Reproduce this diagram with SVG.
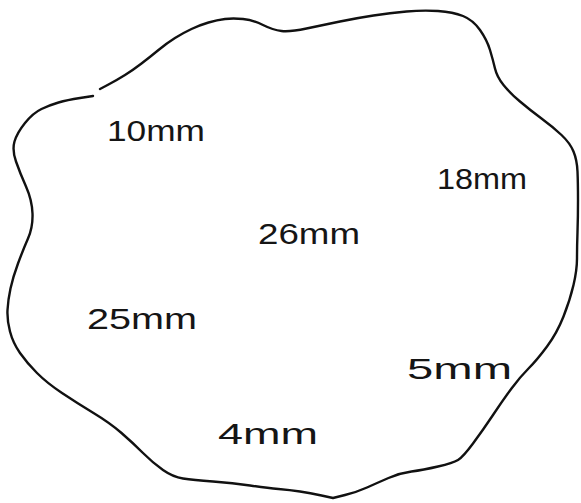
<svg xmlns="http://www.w3.org/2000/svg" width="581" height="503" viewBox="0 0 581 503">
<style>
.outline{fill:none;stroke:#111;stroke-width:2.4;stroke-linecap:round;stroke-linejoin:round}
.lbl{font-family:"Liberation Sans",Arial,sans-serif;font-size:29px;fill:#151515}
</style>
<rect width="581" height="503" fill="#ffffff"/>
<g id="shape">
<path class="outline" d="M100,89 L108.5,84.5 Q117,80 125,75 Q133,70 141.5,63.5 Q150,57 158.5,50 Q167,43 175,38 Q183,33 191.5,29 Q200,25 208.5,22.5 Q217,20 225,19 Q233,18 243,19 Q253,20 263,25 Q273,30 281.5,31 Q290,32 306.5,28.5 Q323,25 340,21.5 Q357,18 373.5,15.5 Q390,13 406.5,11.5 Q423,10 438,11 Q453,12 463,16 Q473,20 480,30 Q487,40 490,50 Q493,60 495,68.5 Q497,77 503.5,85 Q510,93 520,101.5 Q530,110 541.5,118.5 Q553,127 561.5,135 Q570,143 573.5,151.5 Q577,160 577.5,171.5 Q578,183 578,200 Q578,217 577.5,232 Q577,247 577,258.5 Q577,270 573.5,285 Q570,300 563.5,316.5 Q557,333 547,346.5 Q537,360 528.5,368.5 Q520,377 511.5,388.5 Q503,400 493,415 Q483,430 473,443.5 Q463,457 458,460 Q453,463 438,466.5 Q423,470 411.5,471.5 Q400,473 388.5,478 Q377,483 367,487.5 Q357,492 345,495 L333,498 L321.5,495.5 Q310,493 300,491.5 Q290,490 278.5,489 Q267,488 250,485.5 Q233,483 213,481.5 Q193,480 183,478.5 Q173,477 163,470 Q153,463 143,453 Q133,443 121.5,433 Q110,423 93.5,413 Q77,403 62,393 Q47,383 37,373 Q27,363 20,353 Q13,343 10,331.5 Q7,320 7.5,310 Q8,300 10.5,288.5 Q13,277 18,263.5 Q23,250 28,238.5 Q33,227 32.5,213.5 Q32,200 26,186.5 Q20,173 16,161.5 Q12,150 14.5,141.5 Q17,133 25,123 Q33,113 41.5,109 Q50,105 58.5,102.5 Q67,100 80,98 L93,96"/>
</g>
<g id="labels">
<text id="l10" class="lbl" x="107" y="141" textLength="98" lengthAdjust="spacingAndGlyphs">10mm</text>
<text id="l18" class="lbl" x="437" y="189" textLength="90" lengthAdjust="spacingAndGlyphs">18mm</text>
<text id="l26" class="lbl" x="258" y="244" textLength="102" lengthAdjust="spacingAndGlyphs">26mm</text>
<text id="l25" class="lbl" x="87" y="329" textLength="110" lengthAdjust="spacingAndGlyphs">25mm</text>
<text id="l5" class="lbl" x="407" y="379" textLength="105" lengthAdjust="spacingAndGlyphs">5mm</text>
<text id="l4" class="lbl" x="218" y="444" textLength="100" lengthAdjust="spacingAndGlyphs">4mm</text>
</g>
</svg>
